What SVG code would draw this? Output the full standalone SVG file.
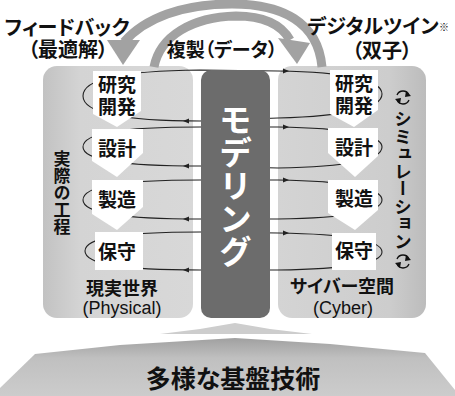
<svg xmlns="http://www.w3.org/2000/svg" width="455" height="396" viewBox="0 0 455 396">
<defs>
<style>
.jp{font-family:'Noto Sans CJK JP','Noto Sans CJK SC',sans-serif;font-weight:bold;fill:#111;font-feature-settings:"palt"}
.lat{font-family:'Liberation Sans',Arial,sans-serif;fill:#111}
.box{fill:#fff;stroke:none}
.loop{fill:none;stroke:#222;stroke-width:1.1}
.ah{fill:#222}
.band{fill:none;stroke:#a2a2a2;stroke-width:9}
.vt{writing-mode:vertical-rl;text-anchor:start}
</style>
<linearGradient id="gl" x1="0" y1="0" x2="1" y2="0">
<stop offset="0" stop-color="#c2c2c2"/><stop offset="0.25" stop-color="#d4d4d4"/><stop offset="1" stop-color="#d8d8d8"/>
</linearGradient>
<linearGradient id="gr" x1="0" y1="0" x2="1" y2="0">
<stop offset="0" stop-color="#d4d4d4"/><stop offset="0.75" stop-color="#cdcdcd"/><stop offset="1" stop-color="#bcbcbc"/>
</linearGradient>
<linearGradient id="gb" x1="0" y1="0" x2="0" y2="1">
<stop offset="0" stop-color="#a0a0a0"/><stop offset="0.35" stop-color="#c0c0c0"/><stop offset="1" stop-color="#cccccc"/>
</linearGradient>
</defs>
<rect width="455" height="396" fill="#fff"/>

<g id="base">
<polygon points="160,334 200,329 235,323 270,329 312,334" fill="#cdcdcd"/>
<polygon points="0,396 0,388 35,354 120,345 235,338 330,344 425,353 455,390 455,396" fill="url(#gb)"/>
<text class="jp" x="233" y="388" font-size="25" text-anchor="middle">多様な基盤技術</text>
</g>

<g id="physical">
<rect x="43" y="66" width="150" height="252" rx="14" fill="url(#gl)"/>
<text class="jp" x="120" y="0" font-size="17" style="writing-mode:vertical-rl" transform="translate(-58,150)">実際の工程</text>
<text class="jp" x="122" y="295" font-size="18" text-anchor="middle">現実世界</text>
<text class="lat" x="122" y="314" font-size="18" text-anchor="middle">(Physical)</text>
</g>

<g id="cyber">
<rect x="278" y="66" width="148" height="252" rx="14" fill="url(#gr)"/>
<text class="jp" x="342" y="293" font-size="18" text-anchor="middle">サイバー空間</text>
<text class="lat" x="343" y="314" font-size="18" text-anchor="middle">(Cyber)</text>
<text class="jp vt" x="403" y="110" font-size="17.5" style="font-feature-settings:normal">シミュレーション</text>
<g fill="none" stroke="#111" stroke-width="1.3">
<path d="M397,95 A6.5,6.5 0 0 1 409,95"/>
<path d="M409,100 A6.5,6.5 0 0 1 397,100"/>
<path d="M397,259 A6.5,6.5 0 0 1 409,259"/>
<path d="M409,264 A6.5,6.5 0 0 1 397,264"/>
</g>
<g fill="#111">
<polygon points="406,91 411,96 405,97"/>
<polygon points="400,104 395,99 401,98"/>
<polygon points="406,255 411,260 405,261"/>
<polygon points="400,268 395,263 401,262"/>
</g>
</g>

<g id="connectors">
<path class="band" d="M322,67 C318,22 282,4 232,4 C182,4 145,18 124,42"/>
<polygon points="107,40 140,40 123,65" fill="#a2a2a2"/>
<path class="band" d="M154,67 C160,36 192,17 236,16 C264,16 281,24 290,40"/>
<polygon points="278,38 310,43 297,64" fill="#a2a2a2"/>

<path class="loop" d="M83,96 C83,79 120,71 200,70 L278,71 C345,72 382,80 382,94 C382,109 345,116 278,118 L200,121 C120,121 83,112 83,96 Z"/>
<path class="loop" d="M83,147 C83,133 120,127 200,127 L278,127 C345,128 382,135 382,147 C382,160 345,167 278,168 L200,166 C120,166 83,160 83,147 Z"/>
<path class="loop" d="M83,200 C83,186 120,180 200,180 L278,180 C345,181 382,188 382,200 C382,212 345,218 278,219 L200,219 C120,219 83,213 83,200 Z"/>
<path class="loop" d="M85,251 C85,238 120,232 200,232 L278,233 C345,234 382,240 382,252 C382,264 345,269 278,270 L200,270 C120,270 85,264 85,251 Z"/>
<polygon class="ah" points="183,121 189,118.5 189,123.5"/>
<polygon class="ah" points="183,166 189,163.5 189,168.5"/>
<polygon class="ah" points="183,219 189,216.5 189,221.5"/>
<polygon class="ah" points="183,270 189,267.5 189,272.5"/>
<polygon class="ah" points="289,71 283,68.5 283,73.5"/>
<polygon class="ah" points="289,127 283,124.5 283,129.5"/>
<polygon class="ah" points="289,180 283,177.5 283,182.5"/>
<polygon class="ah" points="289,233 283,230.5 283,235.5"/>
</g>

<g id="labels-top">
<text class="jp" font-size="20" text-anchor="middle"><tspan x="67" y="35">フィードバック</tspan><tspan x="68" y="57">（最適解）</tspan></text>
<text class="jp" x="222" y="56.5" font-size="19" text-anchor="middle">複製（データ）</text>
<text class="jp" font-size="20" text-anchor="middle"><tspan x="373" y="34">デジタルツイン</tspan><tspan x="382" y="58">（双子）</tspan></text>
<text class="jp" x="444" y="31" font-size="10" text-anchor="middle">※</text>
</g>

<g id="p-research">
<polygon class="box" points="93,71 141,71 141,111 117,127 93,114"/>
<text class="jp" font-size="19" text-anchor="middle"><tspan x="117" y="91.5">研究</tspan><tspan x="117" y="113.5">開発</tspan></text>
</g>
<g id="p-design">
<polygon class="box" points="92,129 143,129 143,153 117,177 92,161"/>
<text class="jp" x="117" y="155.5" font-size="19" text-anchor="middle">設計</text>
</g>
<g id="p-manufacture">
<polygon class="box" points="92,180 143,180 143,207 117,230 92,214"/>
<text class="jp" x="117" y="206.5" font-size="19" text-anchor="middle">製造</text>
</g>
<g id="p-maintenance">
<rect class="box" x="95" y="232" width="48" height="38"/>
<text class="jp" x="117" y="258.5" font-size="19" text-anchor="middle">保守</text>
</g>

<g id="c-research">
<polygon class="box" points="330,70 378,70 378,110 354,127 330,114"/>
<text class="jp" font-size="19" text-anchor="middle"><tspan x="354" y="91">研究</tspan><tspan x="354" y="113">開発</tspan></text>
</g>
<g id="c-design">
<polygon class="box" points="328,128 378,128 378,156 355,177 328,153"/>
<text class="jp" x="354" y="155" font-size="19" text-anchor="middle">設計</text>
</g>
<g id="c-manufacture">
<polygon class="box" points="328,180 378,180 378,210 355,230 328,213"/>
<text class="jp" x="354" y="206" font-size="19" text-anchor="middle">製造</text>
</g>
<g id="c-maintenance">
<rect class="box" x="332" y="233" width="44" height="37"/>
<text class="jp" x="354" y="258" font-size="19" text-anchor="middle">保守</text>
</g>

<g id="modeling">
<rect x="201" y="70" width="69" height="248" rx="10" fill="#6c6c6c"/>
<text class="vt" x="235.5" y="103" font-size="33" fill="#fff" style="font-family:'Noto Sans CJK JP',sans-serif;font-weight:bold">モデリング</text>
</g>
</svg>
